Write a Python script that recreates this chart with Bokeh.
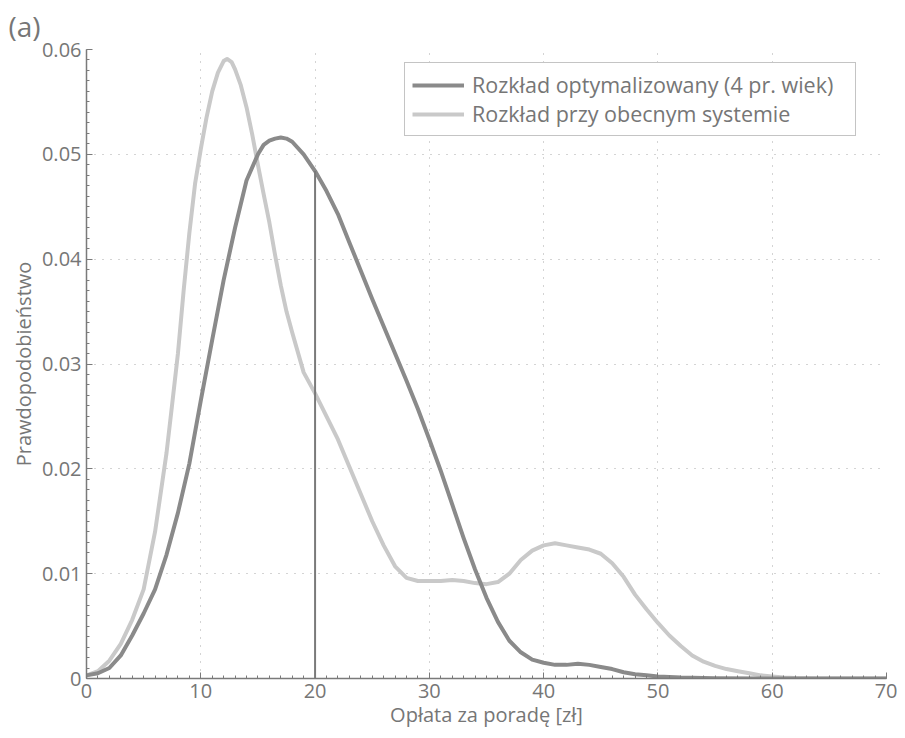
from bokeh.plotting import figure
from bokeh.models import Legend, LegendItem, FixedTicker, ColumnDataSource, Title
from bokeh.embed import file_html
from bokeh.resources import INLINE

# Data
opt_x = [0, 1, 2, 3, 4, 5, 6, 7, 8, 9, 10, 11, 12, 13, 14, 15, 15.5, 16, 16.5, 17, 17.5, 18, 19, 20,
         21, 22, 23, 24, 25, 26, 27, 28, 29, 30, 31, 32, 33, 34, 35, 36, 37, 38, 39, 40,
         41, 42, 43, 44, 45, 46, 47, 48, 49, 50, 52, 55, 60, 70]
opt_y = [0.0003, 0.0005, 0.0010, 0.0022, 0.0041, 0.0062, 0.0085, 0.0118, 0.0158, 0.0205,
         0.0265, 0.0323, 0.0380, 0.0430, 0.0475, 0.0500, 0.0509, 0.0513, 0.0515, 0.0516, 0.0515,
         0.0512, 0.0500,
         0.0484, 0.0465, 0.0443, 0.0416, 0.0389, 0.0362, 0.0336, 0.0310, 0.0284, 0.0257,
         0.0228, 0.0198, 0.0166, 0.0134, 0.0104, 0.0077, 0.0054, 0.0036, 0.0025, 0.0018,
         0.0015, 0.0013, 0.0013, 0.0014, 0.0013, 0.0011, 0.0009, 0.0006, 0.0004, 0.0003,
         0.0002, 0.0001, 0.00003, 0.0, 0.0]

cur_x = [0, 1, 2, 3, 4, 5, 6, 7, 7.5, 8, 8.5, 9, 9.5, 10, 10.5, 11, 11.5, 12, 12.3, 12.7, 13, 13.5,
         14, 14.5, 15, 15.5, 16, 16.5, 17, 17.5, 18, 19, 20,
         21, 22, 23, 24, 25, 26, 27, 28, 29, 30, 31, 32, 33, 34, 35, 36, 37, 38, 39, 40,
         41, 42, 43, 44, 45, 46, 47, 48, 49, 50, 51, 52, 53, 54, 55, 56, 57, 58, 59, 60,
         61, 62, 64, 70]
cur_y = [0.0003, 0.0007, 0.0017, 0.0033, 0.0056, 0.0085, 0.0140, 0.0215, 0.0262, 0.0310, 0.0370,
         0.0425, 0.0472, 0.0505, 0.0535, 0.0560, 0.0578, 0.0589, 0.0591, 0.0588, 0.0581, 0.0566,
         0.0545, 0.0519, 0.0490, 0.0462, 0.0435, 0.0404, 0.0375, 0.0350, 0.0330,
         0.0292, 0.0272, 0.0250, 0.0228, 0.0202, 0.0176, 0.0150, 0.0127, 0.0107, 0.0096,
         0.0093, 0.0093, 0.0093, 0.0094, 0.0093, 0.0091, 0.0090, 0.0092, 0.0100, 0.0113,
         0.0122, 0.0127, 0.0129, 0.0127, 0.0125, 0.0123, 0.0119, 0.0110, 0.0097, 0.0080,
         0.0066, 0.0053, 0.0041, 0.0031, 0.0022, 0.0016, 0.0012, 0.0009, 0.0007, 0.0005,
         0.0003, 0.0002, 0.0001, 0.00005, 0.0, 0.0]

marker_x = [20]
marker_y0 = [0]
marker_y1 = [0.0484]

x_ticks = [0, 10, 20, 30, 40, 50, 60, 70]
y_ticks = [0, 0.01, 0.02, 0.03, 0.04, 0.05, 0.06]
y_tick_labels = {0: "0", 0.01: "0.01", 0.02: "0.02", 0.03: "0.03", 0.04: "0.04", 0.05: "0.05", 0.06: "0.06"}

legend_labels = ["Rozkład optymalizowany (4 pr. wiek)", "Rozkład przy obecnym systemie"]
x_label = "Opłata za poradę [zł]"
y_label = "Prawdopodobieństwo"
panel_label = "(a)"

DARK = "#8a8a8a"
LIGHT = "#c9c9c9"
TEXT = "#767676"
AXIS = "#7a7a7a"
FONT = "Open Sans"

title = Title(text=panel_label, text_font=FONT, text_font_size="28px", text_font_style="normal",
              text_color=TEXT, align="left", offset=-78, standoff=9)

p = figure(width=897, height=730, output_backend="svg", toolbar_location=None,
           x_range=(0, 70), y_range=(0, 0.06), title=title,
           min_border_left=86, min_border_right=11, min_border_top=49, min_border_bottom=51)
p.outline_line_color = None
p.background_fill_color = "white"

for ax in (p.xaxis[0], p.yaxis[0]):
    ax.axis_line_color = AXIS
    ax.axis_line_width = 1.5
    ax.major_tick_line_color = AXIS
    ax.minor_tick_line_color = AXIS
    ax.major_tick_in = 6
    ax.major_tick_out = 0
    ax.minor_tick_in = 3
    ax.minor_tick_out = 0
    ax.major_label_text_color = TEXT
    ax.major_label_text_font = FONT
    ax.major_label_text_font_size = "20px"
    ax.axis_label_text_color = TEXT
    ax.axis_label_text_font = FONT
    ax.axis_label_text_font_size = "20px"
    ax.axis_label_text_font_style = "normal"

p.xaxis.ticker = FixedTicker(ticks=x_ticks, minor_ticks=[i for i in range(0, 71)])
p.yaxis.ticker = FixedTicker(ticks=y_ticks, minor_ticks=[i * 0.001 for i in range(0, 61)])
p.yaxis.major_label_overrides = y_tick_labels
p.xaxis.axis_label = x_label
p.yaxis.axis_label = y_label
p.xaxis.major_label_standoff = 5
p.xaxis.axis_label_standoff = 0
p.yaxis.major_label_standoff = 5
p.yaxis.axis_label_standoff = 2

for g in (p.xgrid[0], p.ygrid[0]):
    g.grid_line_color = "#a8a8a8"
    g.grid_line_dash = "1 7"
    g.grid_line_width = 1

src_opt = ColumnDataSource(dict(x=opt_x, y=opt_y))
src_cur = ColumnDataSource(dict(x=cur_x, y=cur_y))

r_cur = p.line("x", "y", source=src_cur, line_color=LIGHT, line_width=4, line_join="round")
r_opt = p.line("x", "y", source=src_opt, line_color=DARK, line_width=4, line_join="round")
p.segment(x0=marker_x, y0=marker_y0, x1=marker_x, y1=marker_y1, line_color="#7a7a7a", line_width=2)

legend = Legend(items=[LegendItem(label=legend_labels[0], renderers=[r_opt]),
                       LegendItem(label=legend_labels[1], renderers=[r_cur])],
                location=(318, 542))
legend.border_line_color = "#8a8a8a"
legend.border_line_width = 1.5
legend.background_fill_color = "white"
legend.background_fill_alpha = 1
legend.label_text_font = FONT
legend.label_text_font_size = "21.5px"
legend.label_text_color = TEXT
legend.glyph_width = 52
legend.glyph_height = 20
legend.label_height = 20
legend.label_width = 376
legend.spacing = 0
legend.padding = 7
legend.margin = 0
legend.label_standoff = 8
p.add_layout(legend, "center")

open("out.html", "w").write(file_html(p, INLINE))
